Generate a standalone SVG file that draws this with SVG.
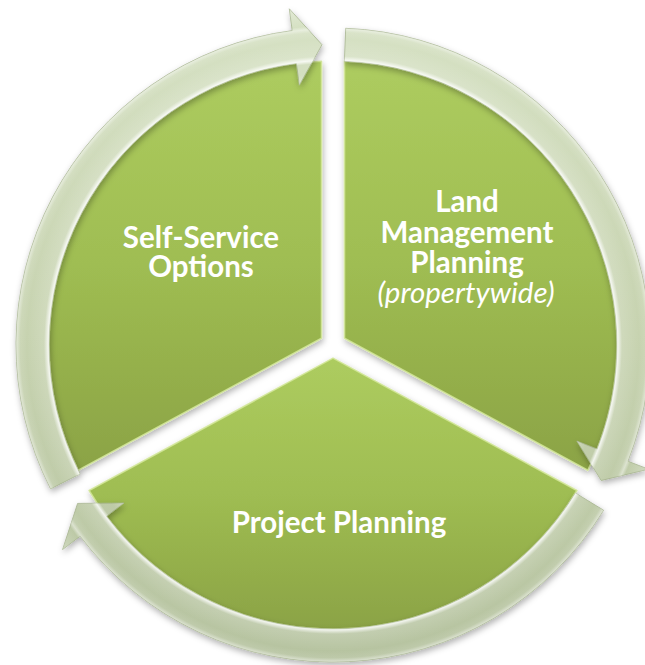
<svg xmlns="http://www.w3.org/2000/svg" width="645" height="665" viewBox="0 0 645 665">
  <defs>
    <linearGradient id="pieFill" x1="0" y1="0" x2="0" y2="1">
      <stop offset="0" stop-color="#adcc5f"/>
      <stop offset="0.5" stop-color="#9fbd52"/>
      <stop offset="1" stop-color="#8ba345"/>
    </linearGradient>
    <linearGradient id="ringFill" gradientUnits="userSpaceOnUse" x1="0" y1="0" x2="0" y2="665">
      <stop offset="0" stop-color="#d7e2c5"/>
      <stop offset="0.5" stop-color="#c7d3b0"/>
      <stop offset="1" stop-color="#b6c3a0"/>
    </linearGradient>
    <radialGradient id="ringBevel" gradientUnits="userSpaceOnUse" cx="333" cy="345" r="340">
      <stop offset="0.76" stop-color="#ffffff" stop-opacity="0.35"/>
      <stop offset="0.80" stop-color="#ffffff" stop-opacity="0"/>
      <stop offset="0.828" stop-color="#ffffff" stop-opacity="0"/>
      <stop offset="0.838" stop-color="#ffffff" stop-opacity="0.8"/>
      <stop offset="0.85" stop-color="#ffffff" stop-opacity="0.15"/>
      <stop offset="0.9" stop-color="#ffffff" stop-opacity="0"/>
      <stop offset="0.92" stop-color="#ffffff" stop-opacity="0.1"/>
      <stop offset="0.93" stop-color="#ffffff" stop-opacity="0.45"/>
      <stop offset="0.94" stop-color="#ffffff" stop-opacity="0"/>
      <stop offset="1" stop-color="#ffffff" stop-opacity="0.3"/>
    </radialGradient>
    <filter id="shadow" x="-10%" y="-10%" width="120%" height="120%">
      <feDropShadow dx="1" dy="3" stdDeviation="3" flood-color="#000000" flood-opacity="0.3"/>
    </filter>
  </defs>
  <style>
    .pie { fill: url(#pieFill); stroke: #d3e89a; stroke-width: 1.6; stroke-opacity: 0.85; stroke-linejoin: round; }
    .arrow { fill: url(#ringFill); stroke: #a3b18b; stroke-width: 0.8; stroke-linejoin: round; }
    .bevel { fill: url(#ringBevel); stroke: none; }
    .lbl { font-family: Lato, "Liberation Sans", sans-serif; font-weight: bold; font-size: 29.5px; fill: #ffffff; text-anchor: middle; }
    .sub { font-weight: normal; font-style: italic; }
  </style>

  <g id="node-land-management" filter="url(#shadow)">
    <path class="pie" d="M344.5,338.2 L344.5,61.2 A284,284 0 0 1 587.8,470.3 Z"/>
  </g>
  <g id="node-project-planning" filter="url(#shadow)">
    <path class="pie" d="M333,358.1 L576.9,490.5 A284,284 0 0 1 89.1,490.5 Z"/>
  </g>
  <g id="node-self-service" filter="url(#shadow)">
    <path class="pie" d="M321.5,338.2 L78.2,470.3 A284,284 0 0 1 321.5,61.2 Z"/>
  </g>

  <g id="connectors" filter="url(#shadow)">
    <g id="arrow-left">
      <path class="arrow" d="M50.6,488.9 A317,317 0 0 1 292.2,30.6 L289.3,8.8 L322,44.7 L299.3,85.2 L296.4,63.4 A284,284 0 0 0 80,473.9 Z"/>
      <path class="bevel" d="M50.6,488.9 A317,317 0 0 1 292.2,30.6 L289.3,8.8 L322,44.7 L299.3,85.2 L296.4,63.4 A284,284 0 0 0 80,473.9 Z"/>
    </g>
    <g id="arrow-right">
      <path class="arrow" d="M345.7,28.3 A317,317 0 0 1 627.9,461.2 L648.4,469.2 L601.2,480.5 L576.8,441 L597.2,449.1 A284,284 0 0 0 344.4,61.2 Z"/>
      <path class="bevel" d="M345.7,28.3 A317,317 0 0 1 627.9,461.2 L648.4,469.2 L601.2,480.5 L576.8,441 L597.2,449.1 A284,284 0 0 0 344.4,61.2 Z"/>
    </g>
    <g id="arrow-bottom">
      <path class="arrow" d="M603.6,510.2 A317,317 0 0 1 80.2,536.2 L62.6,549.5 L77.6,503.4 L124,503 L106.5,516.3 A284,284 0 0 0 575.4,493 Z"/>
      <path class="bevel" d="M603.6,510.2 A317,317 0 0 1 80.2,536.2 L62.6,549.5 L77.6,503.4 L124,503 L106.5,516.3 A284,284 0 0 0 575.4,493 Z"/>
    </g>
  </g>

  <g id="labels">
    <text class="lbl" x="201" y="248">Self-Service<tspan x="201" dy="29">Options</tspan></text>
    <text class="lbl" x="467" y="212">Land<tspan x="467" dy="31">Management</tspan><tspan x="467" dy="30">Planning</tspan><tspan class="sub" x="466" dy="30">(propertywide)</tspan></text>
    <text class="lbl" x="339" y="533">Project Planning</text>
  </g>
</svg>
